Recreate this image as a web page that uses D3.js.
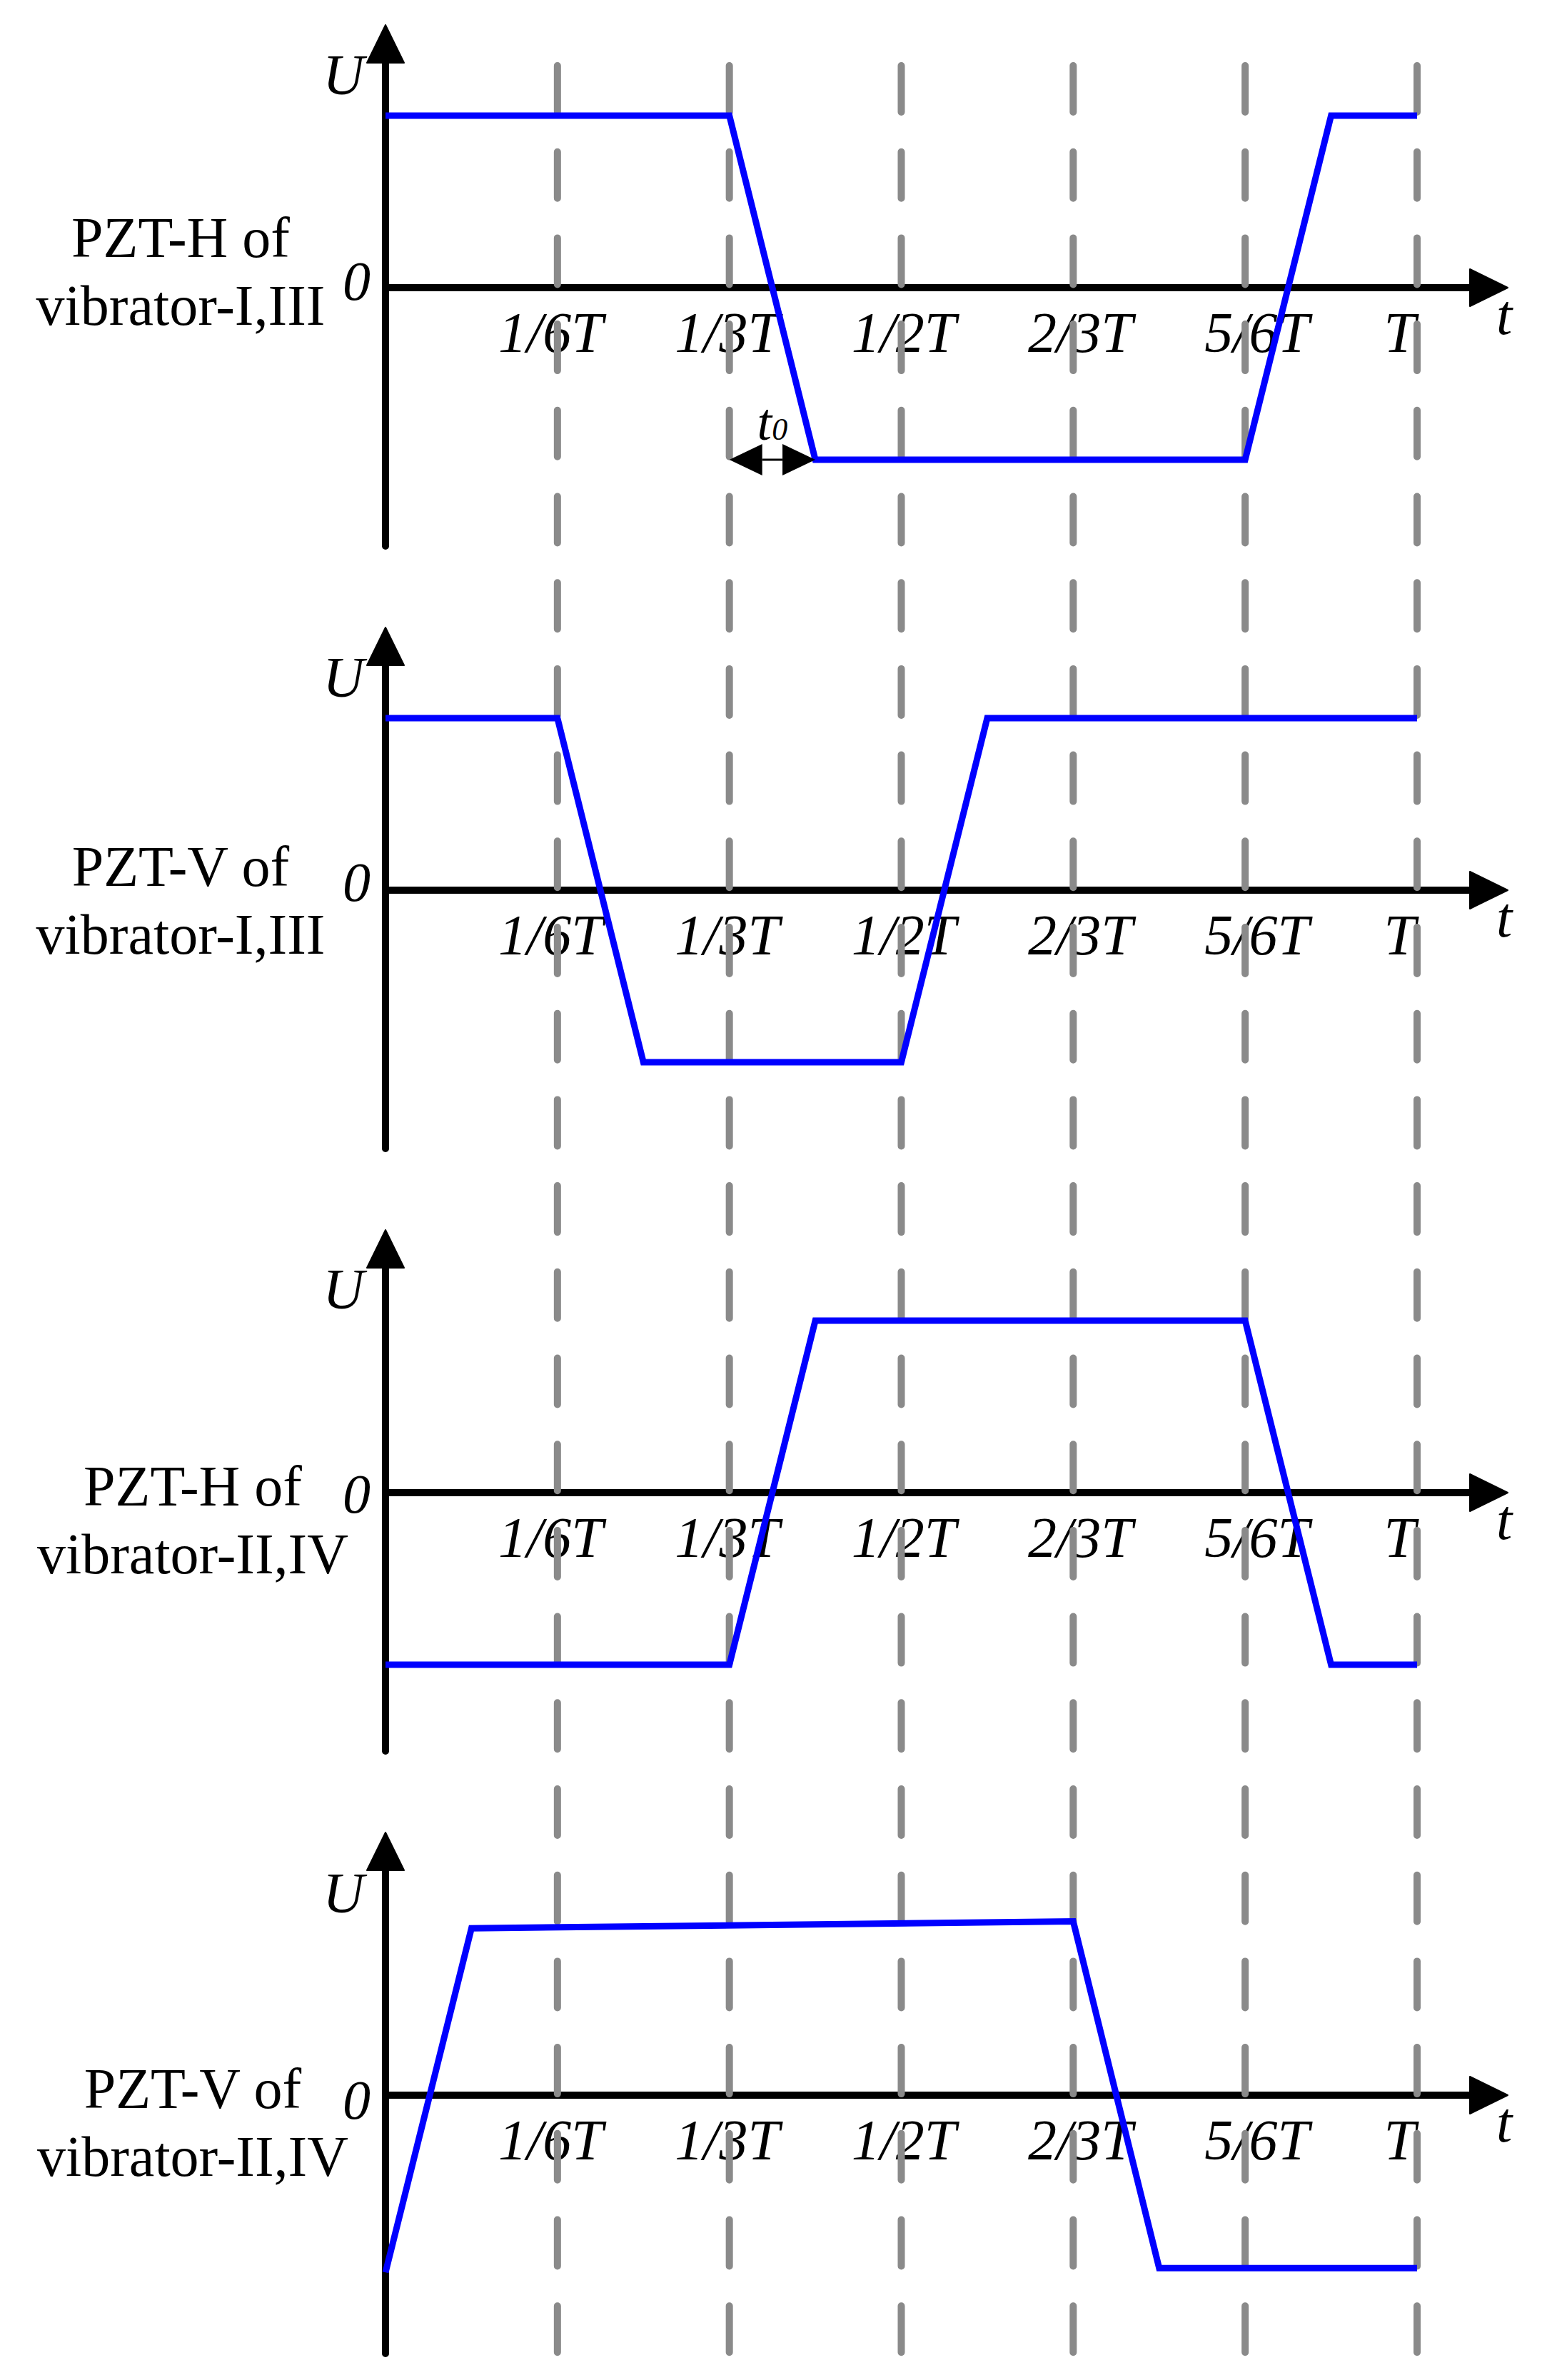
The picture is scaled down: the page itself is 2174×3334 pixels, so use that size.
<!DOCTYPE html>
<html>
<head>
<meta charset="utf-8">
<script src="https://cdn.jsdelivr.net/npm/d3@7"></script>
<style>
  body { margin: 0; background: #fff; }
  svg { display: block; }
  text { font-family: 'Liberation Serif', 'Times New Roman', serif; fill: #000; }
</style>
</head>
<body>
<svg width="2174" height="3334"></svg>
<script>
var svg = d3.select('svg');

// time in units of T, voltage in units of U
var tickValues = [1/6, 1/3, 1/2, 2/3, 5/6, 1];
var tickLabels = ['1/6T', '1/3T', '1/2T', '2/3T', '5/6T', 'T'];
var t0 = 1/12;

var panelNames = [
    ['PZT-H of', 'vibrator-I,III'],
    ['PZT-V of', 'vibrator-I,III'],
    ['PZT-H of', 'vibrator-II,IV'],
    ['PZT-V of', 'vibrator-II,IV']
];
var pztH13 = [[0, 1], [1/3, 1], [5/12, -1], [5/6, -1], [11/12, 1], [1, 1]];
var pztV13 = [[0, 1], [1/6, 1], [1/4, -1], [1/2, -1], [7/12, 1], [1, 1]];
var pztH24 = [[0, -1], [1/3, -1], [5/12, 1], [5/6, 1], [11/12, -1], [1, -1]];
var pztV24 = [[0, -1.03], [1/12, 0.97], [2/3, 1.01], [3/4, -1.005], [1, -1.005]];
var series = [pztH13, pztV13, pztH24, pztV24];

// layout
var zeroY = [403, 1247, 2091, 2935];
var amp = 241;
var nameX = [253, 253, 270, 270];
var nameDy = [[-43, 52], [-6, 89], [18, 113], [18, 113]];
var zeroDy = [17, 15, 28, 33];
var uDy = [-271, -271, -258, -256];

var x = d3.scaleLinear().domain([0, 1]).range([540, 1985]);
var labelX = d3.scaleLinear().domain([0, 1]).range([524, 2008]);
var head = 26, headLen = 53;

var axesG = svg.append('g').attr('class', 'axes');
var textG = svg.append('g').attr('class', 'labels');

series.forEach(function(data, i) {
    var zy = zeroY[i];
    var y = d3.scaleLinear().domain([-1, 1]).range([zy + amp, zy - amp]);

    // vertical axis with arrow
    axesG.append('line')
        .attr('x1', x(0)).attr('x2', x(0))
        .attr('y1', zy - 368 + headLen - 2).attr('y2', zy + 362)
        .attr('stroke', '#000').attr('stroke-width', 10).attr('stroke-linecap', 'round');
    axesG.append('path')
        .attr('d', 'M' + x(0) + ',' + (zy - 368) + 'L' + (x(0) + head) + ',' + (zy - 368 + headLen) +
              'L' + (x(0) - head) + ',' + (zy - 368 + headLen) + 'Z')
        .attr('fill', '#000').attr('stroke', '#000').attr('stroke-width', 2).attr('stroke-linejoin', 'round');

    // horizontal axis with arrow
    var tipX = 2112;
    axesG.append('line')
        .attr('x1', x(0)).attr('x2', tipX - headLen + 2)
        .attr('y1', y(0)).attr('y2', y(0))
        .attr('stroke', '#000').attr('stroke-width', 10);
    axesG.append('path')
        .attr('d', 'M' + tipX + ',' + y(0) + 'L' + (tipX - headLen) + ',' + (y(0) - head) +
              'L' + (tipX - headLen) + ',' + (y(0) + head) + 'Z')
        .attr('fill', '#000').attr('stroke', '#000').attr('stroke-width', 2).attr('stroke-linejoin', 'round');

    // axis texts
    textG.append('text')
        .attr('x', 510).attr('y', zy + uDy[i])
        .attr('text-anchor', 'end')
        .style('font-style', 'italic').style('font-size', '80px')
        .text('U');
    textG.append('text')
        .attr('x', 519).attr('y', zy + zeroDy[i])
        .attr('text-anchor', 'end')
        .style('font-style', 'italic').style('font-size', '78px')
        .text('0');
    textG.append('text')
        .attr('x', 2096).attr('y', zy + 65)
        .style('font-style', 'italic').style('font-size', '80px')
        .text('t');

    textG.selectAll('.tick' + i)
        .data(tickValues)
        .enter()
        .append('text')
        .attr('class', 'tick' + i)
        .attr('x', function(d, j) { return tickLabels[j] == 'T' ? x(d) - 2 : labelX(d); })
        .attr('y', zy + 90)
        .attr('text-anchor', function(d, j) { return tickLabels[j] == 'T' ? 'end' : 'middle'; })
        .style('font-style', 'italic').style('font-size', '80px')
        .text(function(d, j) { return tickLabels[j]; });

    // panel name
    panelNames[i].forEach(function(line, k) {
        textG.append('text')
            .attr('x', nameX[i]).attr('y', zy + nameDy[i][k])
            .attr('text-anchor', 'middle')
            .style('font-size', '80px')
            .text(line);
    });
});

// dashed guide lines across all panels
svg.append('g').attr('class', 'guides')
    .selectAll('line')
    .data(tickValues)
    .enter()
    .append('line')
    .attr('x1', function(d) { return x(d); })
    .attr('x2', function(d) { return x(d); })
    .attr('y1', 92)
    .attr('y2', 3296)
    .attr('stroke', '#8a8a8a')
    .attr('stroke-width', 10)
    .attr('stroke-linecap', 'round')
    .attr('stroke-dasharray', '65,55.7');

// waveforms
series.forEach(function(data, i) {
    var zy = zeroY[i];
    var y = d3.scaleLinear().domain([-1, 1]).range([zy + amp, zy - amp]);
    var line = d3.line()
        .x(function(d) { return x(d[0]); })
        .y(function(d) { return y(d[1]); });
    svg.append('path')
        .datum(data)
        .attr('d', line)
        .attr('fill', 'none')
        .attr('stroke', '#0000ff')
        .attr('stroke-width', 9)
        .attr('stroke-linejoin', 'miter');
});

// t0 annotation in first panel
(function() {
    var y = d3.scaleLinear().domain([-1, 1]).range([zeroY[0] + amp, zeroY[0] - amp]);
    var ay = y(-1);
    var xa = x(1/3), xb = x(1/3 + t0);
    var hl = 46, hh = 22;
    var g = svg.append('g').attr('class', 't0');
    g.append('line')
        .attr('x1', xa + hl).attr('x2', xb - hl)
        .attr('y1', ay).attr('y2', ay)
        .attr('stroke', '#000').attr('stroke-width', 3);
    g.append('path')
        .attr('d', 'M' + xa + ',' + ay + 'L' + (xa + hl) + ',' + (ay - hh) + 'L' + (xa + hl) + ',' + (ay + hh) + 'Z')
        .attr('fill', '#000');
    g.append('path')
        .attr('d', 'M' + xb + ',' + ay + 'L' + (xb - hl) + ',' + (ay - hh) + 'L' + (xb - hl) + ',' + (ay + hh) + 'Z')
        .attr('fill', '#000');
    var lbl = g.append('text')
        .attr('x', (xa + xb) / 2).attr('y', ay - 28)
        .attr('text-anchor', 'middle')
        .style('font-style', 'italic').style('font-size', '74px');
    lbl.append('tspan').text('t');
    lbl.append('tspan').style('font-size', '44px').text('0');
})();
</script>
</body>
</html>
